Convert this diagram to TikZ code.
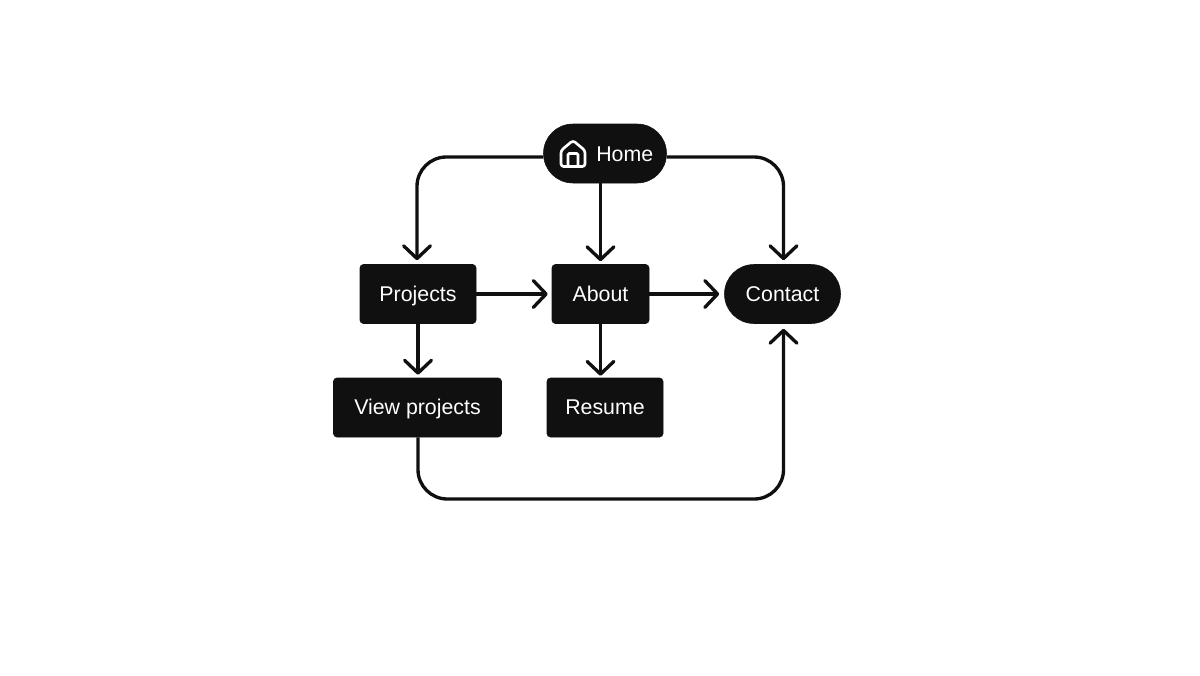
\documentclass[tikz,border=0pt]{standalone}
\usepackage{fontspec}
\setmainfont{Liberation Sans}
\usetikzlibrary{arrows.meta,calc}
\definecolor{ink}{HTML}{101010}
\tikzset{
 px/.style={x=0.75pt,y=-0.75pt},
 labelfont/.style={font=\fontsize{16}{18}\selectfont},
 base/.style={fill=ink,text=white,labelfont,minimum height=44.25pt,inner sep=0pt,draw=ink,text height=10.5pt,text depth=0pt},
 boxn/.style={base,rounded corners=2.5pt},
 pill/.style={base,rounded corners=22pt},
 plain/.style={draw=ink,line width=2.5pt,rounded corners=22pt},
 conn/.style={plain,-{Straight Barb[length=9.5pt,width=20pt,line width=2.5pt,line cap=round,round]}}
}
\begin{document}
\begin{tikzpicture}[px]
\useasboundingbox (0,0) rectangle (1200,675);
\node[pill,minimum width=92.25pt] (home) at (605,153.5) {};
\node[boxn,minimum width=87pt] (projects) at (418,294) {Projects};
\node[boxn,minimum width=72.75pt] (about) at (600.5,294) {About};
\node[pill,minimum width=87pt] (contact) at (782.5,294) {Contact};
\node[boxn,minimum width=126pt] (view) at (417.5,407.5) {View projects};
\node[boxn,minimum width=87pt] (resume) at (605,407.5) {Resume};
\node[text=white,labelfont,anchor=base west,inner sep=0pt] (hometext) at (596,161) {Home};
\coordinate (icon) at (573,153.5);
\draw[white,line width=2pt,line join=round,rounded corners=2pt]
 ($(icon)+(-12,-3)$) -- ($(icon)+(0,-13)$) -- ($(icon)+(12,-3)$) -- ($(icon)+(12,13)$) -- ($(icon)+(-12,13)$) -- cycle;
\draw[white,line width=2pt,rounded corners=1pt] ($(icon)+(-5,13)$) -- ($(icon)+(-5,0)$) -- ($(icon)+(5,0)$) -- ($(icon)+(5,13)$);
\coordinate (hl) at (home.west|-0,157);
\coordinate (hr) at (home.east|-0,157);
\coordinate (pt) at ($(projects.north)+(-1,-4)$);
\coordinate (ct) at ($(contact.north)+(1,-4)$);
\draw[conn] (hl) -| (pt);
\draw[conn] (hr) -| (ct);
\draw[conn] (home.south-|about) -- ($(about.north)+(0,-3)$);
\draw[conn] (projects.east) -- ($(about.west)+(-4,0)$);
\draw[conn] (about.east) -- ($(contact.west)+(-5,0)$);
\draw[conn] (projects.south) -- ($(projects.south|-view.north)+(0,-3)$);
\draw[conn] (about.south) -- ($(about.south)+(0,52)$);
\coordinate (vb) at (418,499);
\draw[conn] (view.south-|vb) -- (vb) -| ($(contact.south)+(1,5)$);
\end{tikzpicture}
\end{document}
